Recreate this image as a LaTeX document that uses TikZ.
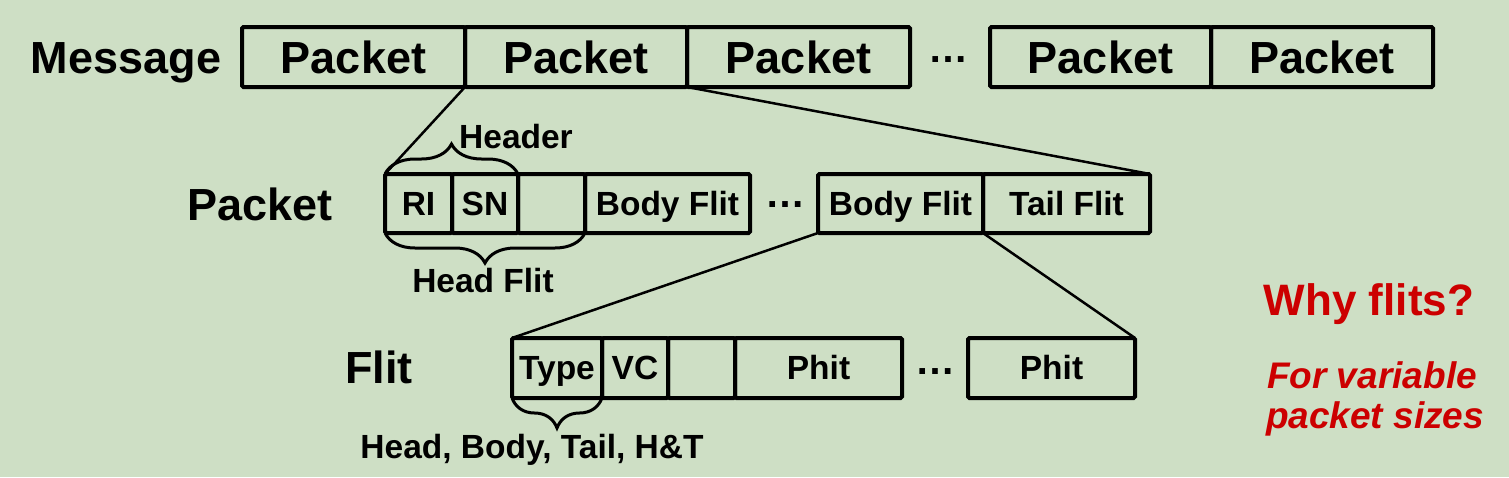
\documentclass[tikz,border=0pt]{standalone}
\usepackage{fontspec}
\setmainfont{Liberation Sans}
\usetikzlibrary{decorations.pathreplacing}
\definecolor{slidebg}{RGB}{206,223,197}
\definecolor{slidered}{RGB}{204,0,0}
\begin{document}
\begin{tikzpicture}[x=1pt,y=-1pt,
    bigcell/.style={draw,line width=4pt,rounded corners=1.5pt,inner sep=0pt,outer sep=0pt,
        minimum height=60pt,text height=32pt,text depth=0pt,
        font=\fontsize{45}{52}\selectfont\bfseries},
    cell/.style={draw,line width=4pt,rounded corners=1.5pt,inner sep=0pt,outer sep=0pt,
        minimum height=59pt,text height=23pt,text depth=0pt,
        font=\fontsize{33.5}{40}\selectfont\bfseries},
    rowlabel/.style={anchor=base,inner sep=0pt,font=\fontsize{45}{52}\selectfont\bfseries},
    note/.style={anchor=base,inner sep=0pt,font=\fontsize{33.5}{40}\selectfont\bfseries},
    gap/.style={inner sep=0pt,font=\fontsize{40}{46}\selectfont\bfseries},
    zoomline/.style={line width=2.5pt},
    brace/.style={decorate,decoration={brace,amplitude=30pt},line width=3pt},
    ]
    \path[use as bounding box,fill=slidebg] (0,0) rectangle (1509,477);

    \node[rowlabel] (message) at (126,73) {Message};
    \node[bigcell,minimum width=223pt] (p1) at (353.5,57) {Packet};
    \node[bigcell,minimum width=222pt] (p2) at (576,57) {Packet};
    \node[bigcell,minimum width=223pt] (p3) at (798.5,57) {Packet};
    \node[gap] (mdots) at (948,60) {…};
    \node[bigcell,minimum width=221pt] (p4) at (1100.5,57) {Packet};
    \node[bigcell,minimum width=222pt] (p5) at (1322,57) {Packet};

    \node[rowlabel] (packet) at (260,220) {Packet};
    \node[cell,minimum width=67pt] (ri) at (418.5,203.5) {RI};
    \node[cell,minimum width=66pt] (sn) at (485,203.5) {SN};
    \node[cell,minimum width=67pt] (hrest) at (551.5,203.5) {};
    \node[cell,minimum width=165pt] (bf1) at (667.5,203.5) {Body Flit};
    \node[gap] (pdots) at (785,205) {…};
    \node[cell,minimum width=165pt] (bf2) at (900.5,203.5) {Body Flit};
    \node[cell,minimum width=167pt] (tf) at (1066.5,203.5) {Tail Flit};

    \node[rowlabel] (flit) at (379,383) {Flit};
    \node[cell,minimum width=90pt,minimum height=60pt] (type) at (557,368) {Type};
    \node[cell,minimum width=66pt,minimum height=60pt] (vc) at (635,368) {VC};
    \node[cell,minimum width=67pt,minimum height=60pt] (frest) at (701.5,368) {};
    \node[cell,minimum width=167pt,minimum height=60pt] (ph1) at (818.5,368) {Phit};
    \node[gap] (fdots) at (935,372) {…};
    \node[cell,minimum width=167pt,minimum height=60pt] (ph2) at (1051.5,368) {Phit};

    \draw[zoomline] (p2.south west) -- (ri.north west);
    \draw[zoomline] (p2.south east) -- (tf.north east);
    \draw[zoomline] (bf2.south west) -- (type.north west);
    \draw[zoomline] (bf2.south east) -- (ph2.north east);

    \draw[brace] (ri.north west) -- (sn.north east);
    \node[note] (header) at (516,148) {Header};
    \draw[brace] (hrest.south east) -- (ri.south west);
    \node[note] (headflit) at (483,292) {Head Flit};
    \draw[brace] (type.south east) -- (type.south west);
    \node[note] (kinds) at (532,458) {Head, Body, Tail, H\&T};

    \node[anchor=base,inner sep=0pt,text=slidered,font=\fontsize{44}{50}\selectfont\bfseries] (why) at (1369,315) {Why flits?};
    \node[anchor=base,inner sep=0pt,text=slidered,font=\fontsize{37}{43}\selectfont\bfseries\itshape] (forvar) at (1372,388) {For variable};
    \node[anchor=base,inner sep=0pt,text=slidered,font=\fontsize{37}{43}\selectfont\bfseries\itshape] (sizes) at (1375,428) {packet sizes};
\end{tikzpicture}
\end{document}
